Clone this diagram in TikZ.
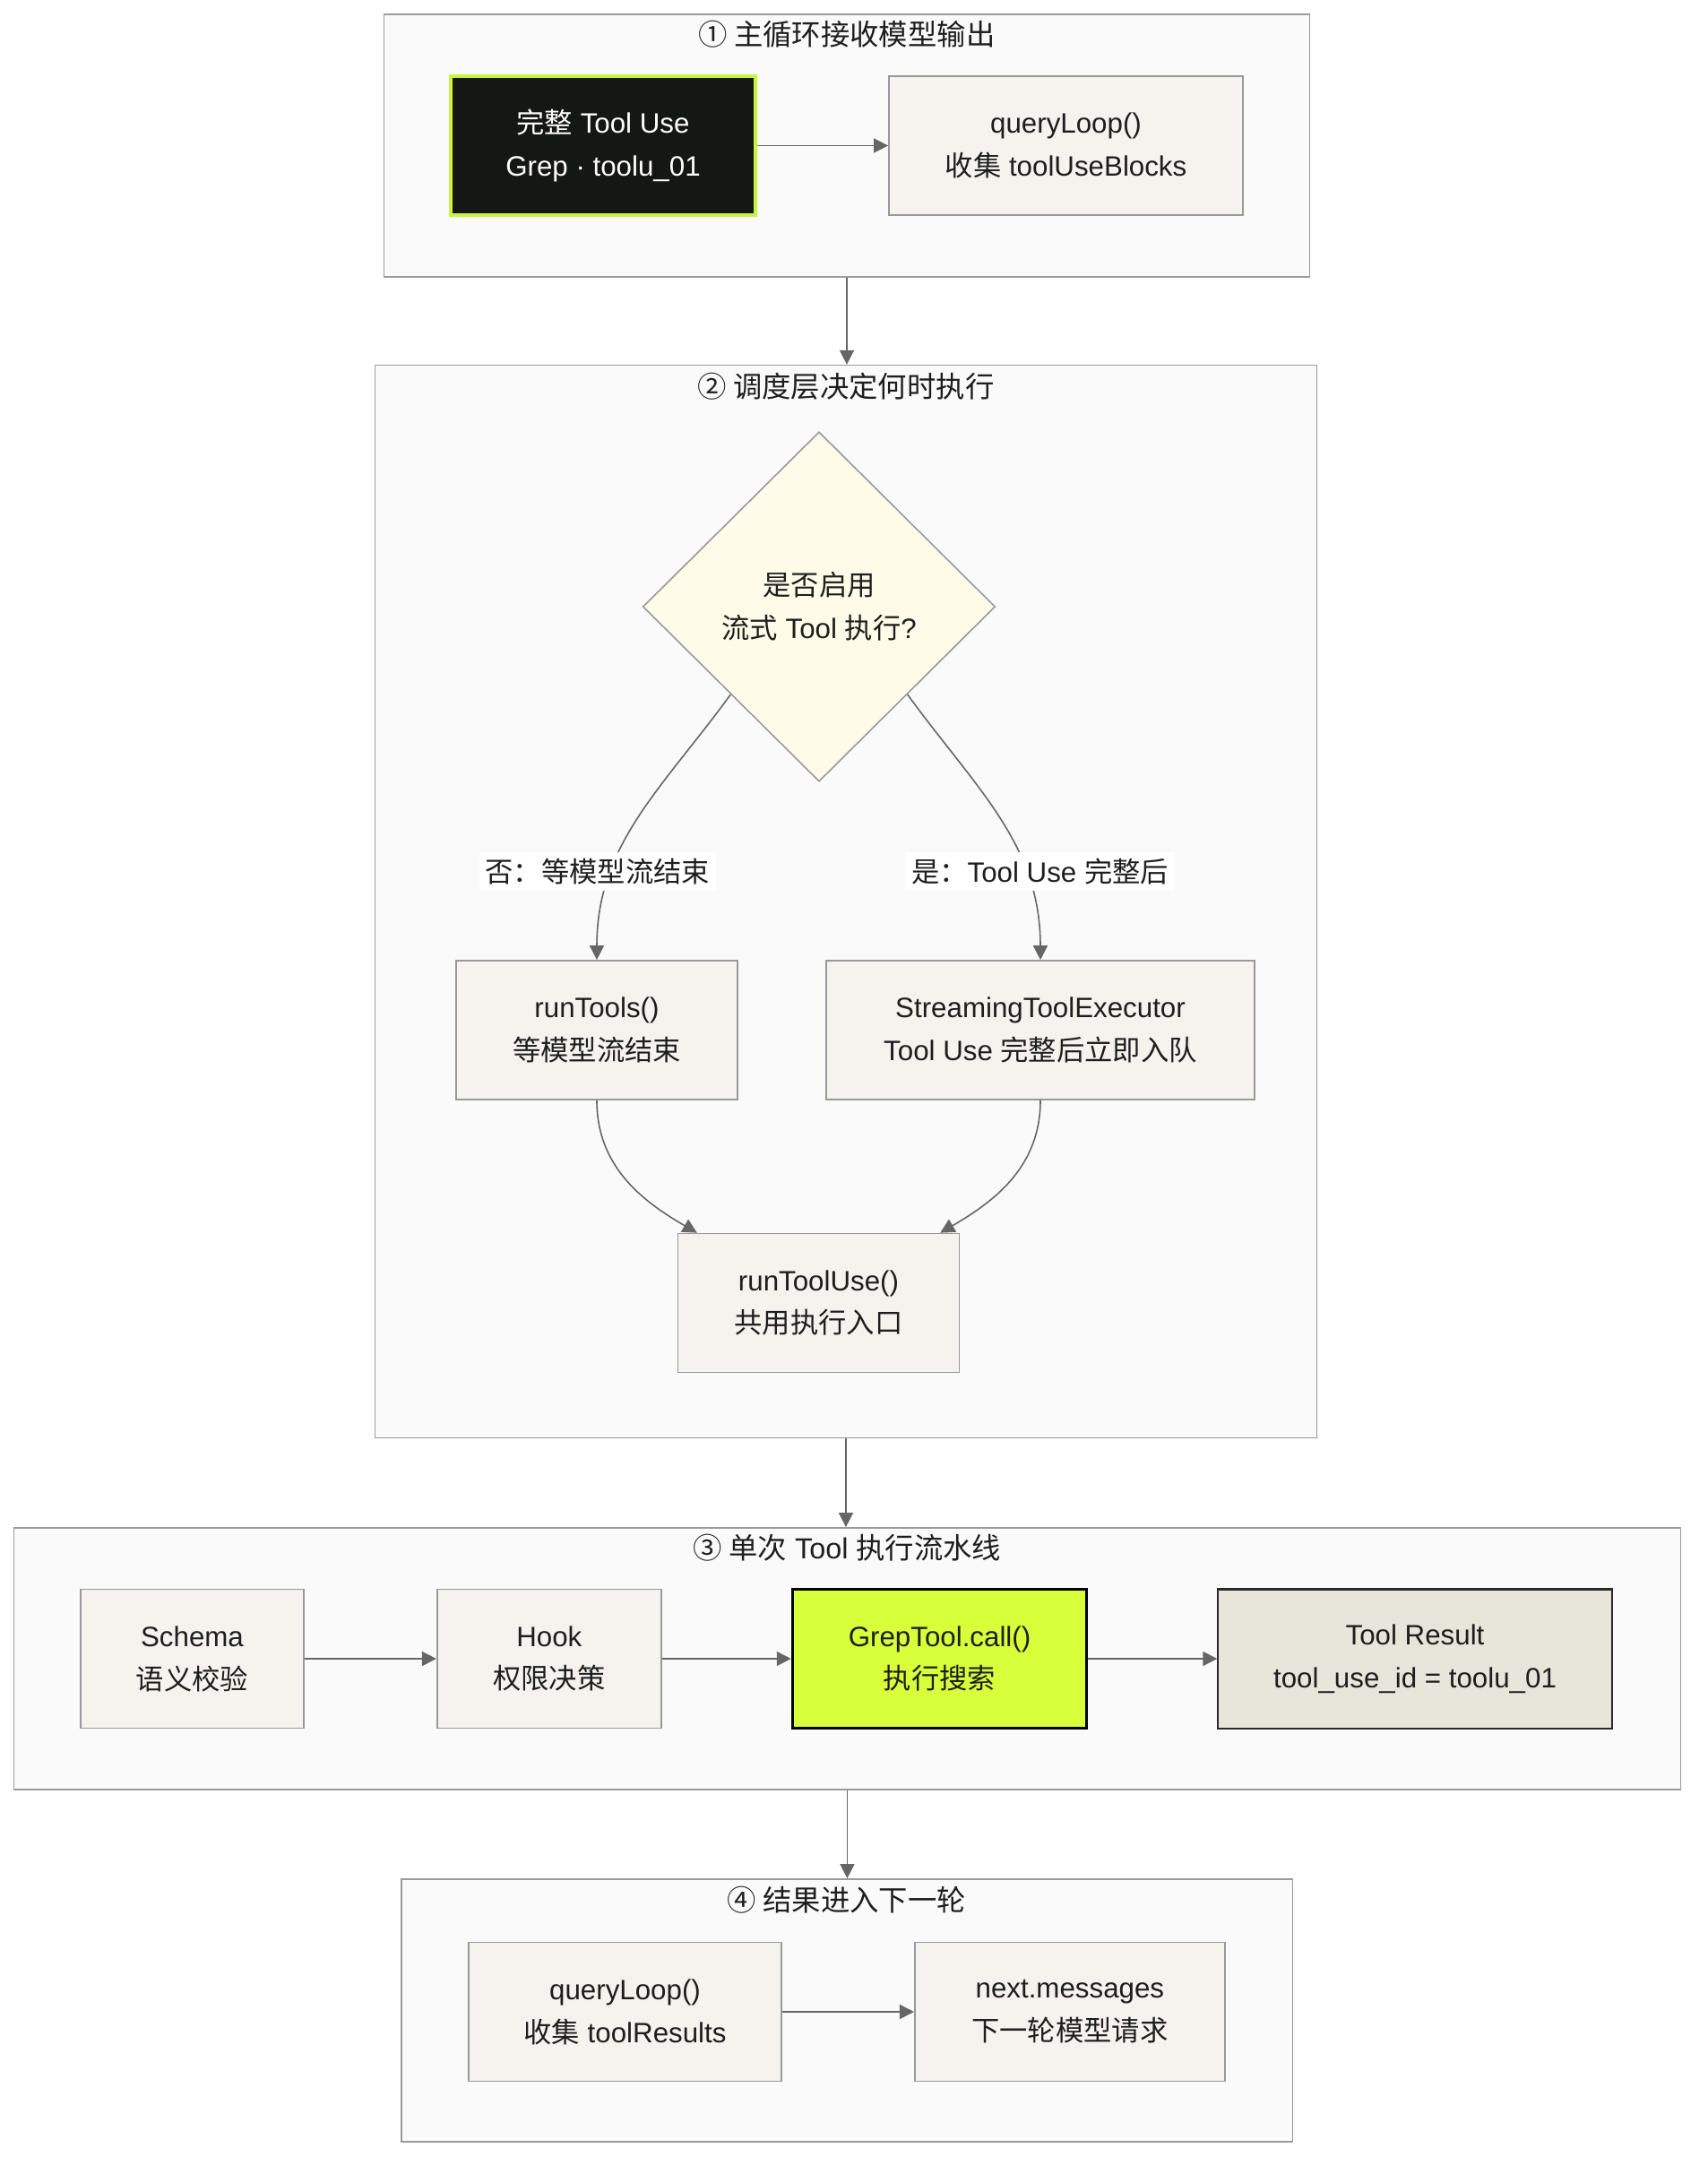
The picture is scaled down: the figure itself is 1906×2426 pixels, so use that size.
\documentclass[tikz,border=0pt]{standalone}
\usepackage{fontspec}
\setmainfont{Liberation Sans}
\newfontfamily\cjk{Noto Sans CJK SC}
\usetikzlibrary{shapes.geometric,positioning,arrows.meta}
\definecolor{clusterbg}{HTML}{FAFAFA}
\definecolor{clusterline}{HTML}{9A9A9A}
\definecolor{boxbg}{HTML}{F4F3EE}
\definecolor{boxline}{HTML}{999999}
\definecolor{flowcol}{HTML}{666666}
\definecolor{textcol}{HTML}{1E1E1E}
\definecolor{nearblack}{HTML}{151712}
\definecolor{limeline}{HTML}{C8F53C}
\definecolor{limefill}{HTML}{D7FF3A}
\definecolor{diafill}{HTML}{FEFBE8}
\definecolor{resultfill}{HTML}{E8E6DA}
\definecolor{darkline}{HTML}{2A2A2A}

\begin{document}
\begin{tikzpicture}[x=0.01cm, y=0.01cm, line width=.45pt,
  font=\fontsize{8.9}{13.6}\selectfont,
  cluster/.style={draw=clusterline, fill=clusterbg, inner sep=0pt},
  title/.style={text=textcol, inner sep=0pt, font=\fontsize{9.2}{13.6}\selectfont},
  box/.style={draw=boxline, fill=boxbg, text=textcol, align=center, inner sep=0pt, minimum height=1.55cm},
  flow/.style={draw=flowcol, -{Triangle[length=0.16cm,width=0.16cm]}},
  elabel/.style={fill=white, text=textcol, inner sep=2pt}]
\useasboundingbox (0,0) rectangle (1906,-2426);
% Step 1
\node[cluster, minimum width=10.32cm, minimum height=2.93cm] (stepone) at (945,-162.5) {};
\node[title] (titleone) at ([yshift=-0.23cm]stepone.north) {{\cjk ① 主循环接收模型输出}};
\node[box, draw=limeline, fill=nearblack, text=white, line width=1.1pt, minimum width=3.40cm] (usebox) at (673,-162.5) {{\cjk 完整} Tool Use\\Grep · toolu\_01};
\node[box, minimum width=3.95cm, right=1.46cm of usebox] (qlone) {queryLoop()\\{\cjk 收集} toolUseBlocks};
\draw[flow] (usebox) -- (qlone);
% Step 2
\node[cluster, minimum width=10.50cm, minimum height=11.96cm] (steptwo) at (944,-1006) {};
\node[title] (titletwo) at ([yshift=-0.24cm]steptwo.north) {{\cjk ② 调度层决定何时执行}};
\node[diamond, aspect=1, draw=boxline, fill=diafill, text=textcol, align=center, inner sep=0pt, minimum width=3.93cm, minimum height=3.90cm] (ask) at (914,-677) {{\cjk 是否启用}\\{\cjk 流式} Tool {\cjk 执行}?};
\node[box, minimum width=3.14cm] (runtools) at (666,-1149.5) {runTools()\\{\cjk 等模型流结束}};
\node[box, minimum width=4.78cm] (streamexec) at (1161,-1149.5) {StreamingToolExecutor\\Tool Use {\cjk 完整后立即入队}};
\node[box, minimum width=3.14cm] (runtooluse) at (913.5,-1454) {runToolUse()\\{\cjk 共用执行入口}};
\draw[flow] (ask.south west) to[out=-126,in=90] node[elabel, pos=.71, xshift=-0.16cm] {{\cjk 否：等模型流结束}} (runtools.north);
\draw[flow] (ask.south east) to[out=-54,in=90] node[elabel, pos=.71, xshift=0.16cm] {{\cjk 是：}Tool Use {\cjk 完整后}} (streamexec.north);
\draw[flow] (runtools.south) to[out=-90,in=150] (runtooluse.150);
\draw[flow] (streamexec.south) to[out=-90,in=30] (runtooluse.30);
\draw[flow] (stepone.south) -- (stepone.south |- steptwo.north);
% Step 3
\node[cluster, minimum width=18.59cm, minimum height=2.92cm] (stepthree) at (945.5,-1851) {};
\node[title] (titlethree) at ([yshift=-0.23cm]stepthree.north) {{\cjk ③ 单次} Tool {\cjk 执行流水线}};
\node[box, minimum width=2.49cm] (schema) at (214.5,-1851) {Schema\\{\cjk 语义校验}};
\node[box, minimum width=2.50cm, right=1.47cm of schema] (hook) {Hook\\{\cjk 权限决策}};
\node[box, draw=black, fill=limefill, line width=.95pt, minimum width=3.28cm, right=1.44cm of hook] (grepcall) {GrepTool.call()\\{\cjk 执行搜索}};
\node[box, draw=darkline, fill=resultfill, line width=.6pt, minimum width=4.39cm, right=1.44cm of grepcall] (result) {Tool Result\\tool\_use\_id = toolu\_01};
\draw[flow] (schema) -- (hook);
\draw[flow] (hook) -- (grepcall);
\draw[flow] (grepcall) -- (result);
\draw[flow] (steptwo.south) -- (steptwo.south |- stepthree.north);
% Step 4
\node[cluster, minimum width=9.94cm, minimum height=2.93cm] (stepfour) at (945,-2243.5) {};
\node[title] (titlefour) at ([yshift=-0.24cm]stepfour.north) {{\cjk ④ 结果进入下一轮}};
\node[box, minimum width=3.49cm] (qltwo) at (697.5,-2245) {queryLoop()\\{\cjk 收集} toolResults};
\node[box, minimum width=3.46cm, right=1.47cm of qltwo] (nextmsg) {next.messages\\{\cjk 下一轮模型请求}};
\draw[flow] (qltwo) -- (nextmsg);
\draw[flow] (stepthree.south) -- (stepthree.south |- stepfour.north);
\end{tikzpicture}
\end{document}
